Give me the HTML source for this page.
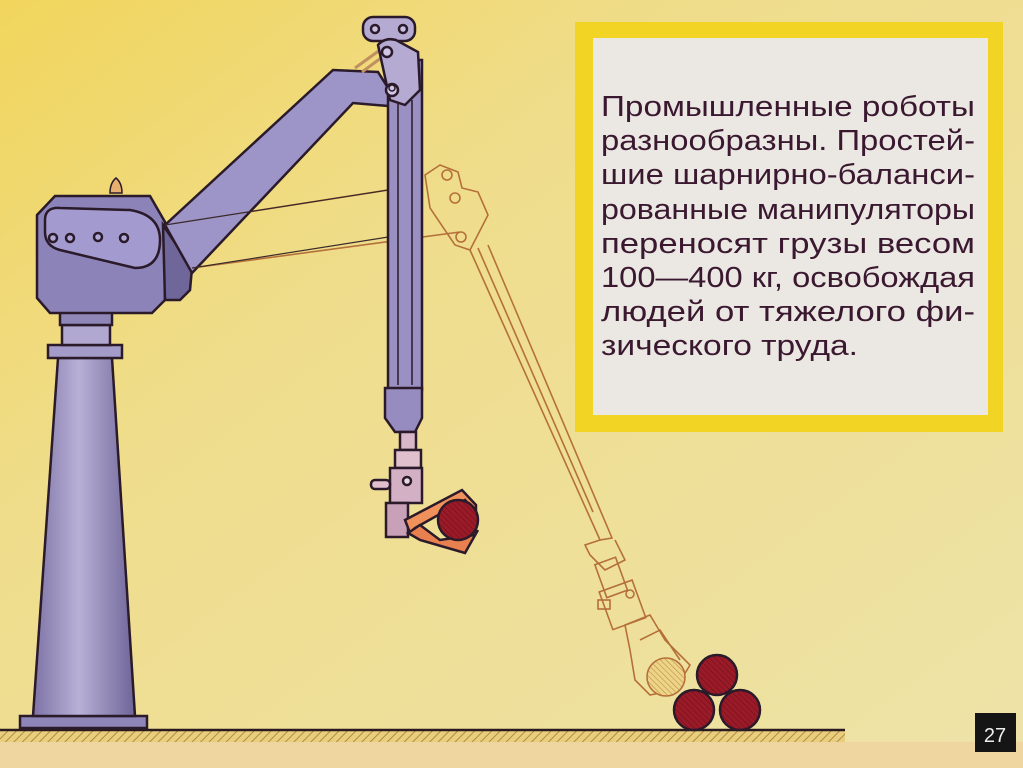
<!DOCTYPE html>
<html><head><meta charset="utf-8"><style>
html,body{margin:0;padding:0;}
body{width:1023px;height:768px;overflow:hidden;}
</style></head><body>
<svg width="1023" height="768" viewBox="0 0 1023 768" xmlns="http://www.w3.org/2000/svg">
<defs>
<linearGradient id="bg" x1="0" y1="0" x2="1" y2="1">
<stop offset="0" stop-color="#f1d55c"/><stop offset="0.35" stop-color="#efdd8c"/><stop offset="1" stop-color="#eee3a8"/>
</linearGradient>
<linearGradient id="col" x1="0" x2="1">
<stop offset="0" stop-color="#7d73a6"/><stop offset="0.45" stop-color="#b8b0d6"/><stop offset="1" stop-color="#6e6598"/>
</linearGradient>
<pattern id="hatch" width="6" height="6" patternUnits="userSpaceOnUse" patternTransform="rotate(45)">
<rect width="6" height="6" fill="#e8cf80"/><line x1="0" y1="0" x2="0" y2="6" stroke="#b78a3a" stroke-width="2"/>
</pattern>
<pattern id="bh" width="4" height="4" patternUnits="userSpaceOnUse" patternTransform="rotate(-45)">
<rect width="4" height="4" fill="#9a1a28"/><line x1="0" y1="0" x2="0" y2="4" stroke="#6a0f1a" stroke-width="1"/>
</pattern>
<pattern id="gh" width="4" height="4" patternUnits="userSpaceOnUse" patternTransform="rotate(-45)">
<rect width="4" height="4" fill="#ecd48a"/><line x1="0" y1="0" x2="0" y2="4" stroke="#c0903a" stroke-width="1.2"/>
</pattern>
</defs>
<rect width="1023" height="768" fill="url(#bg)"/>
<rect x="0" y="742" width="1023" height="26" fill="#efd6a0"/>

<rect x="0" y="730" width="845" height="12" fill="url(#hatch)"/>
<line x1="0" y1="730" x2="845" y2="730" stroke="#2a1a20" stroke-width="2.5"/>

<rect x="575" y="22" width="428" height="410" fill="#f2d424"/>
<rect x="593" y="38" width="395" height="377" fill="#ebe7e2"/>
<g font-family="'Liberation Sans',sans-serif" font-size="29" fill="#3a1830">
<text x="601" y="116" textLength="374" lengthAdjust="spacingAndGlyphs">Промышленные роботы</text>
<text x="601" y="150" textLength="374" lengthAdjust="spacingAndGlyphs">разнообразны. Простей-</text>
<text x="601" y="184" textLength="374" lengthAdjust="spacingAndGlyphs">шие шарнирно-баланси-</text>
<text x="601" y="219" textLength="374" lengthAdjust="spacingAndGlyphs">рованные манипуляторы</text>
<text x="601" y="253" textLength="374" lengthAdjust="spacingAndGlyphs">переносят грузы весом</text>
<text x="601" y="287" textLength="374" lengthAdjust="spacingAndGlyphs">100—400 кг, освобождая</text>
<text x="601" y="321" textLength="374" lengthAdjust="spacingAndGlyphs">людей от тяжелого фи-</text>
<text x="601" y="355" textLength="257" lengthAdjust="spacingAndGlyphs">зического труда.</text>
</g>

<rect x="975" y="713" width="41" height="39" fill="#151515"/>
<text x="995" y="742" font-family="'Liberation Sans',sans-serif" font-size="20" fill="#eee" text-anchor="middle">27</text>

<g stroke="#2a1a2a" stroke-width="2.5">
<rect x="20" y="716" width="127" height="12" fill="#8e86b8"/>
<polygon points="58,358 112,358 135,716 33,716" fill="url(#col)"/>
<rect x="48" y="345" width="74" height="13" fill="#a49cc8"/>
<rect x="62" y="325" width="48" height="20" fill="#b0a8d0"/>
<rect x="60" y="312" width="52" height="13" fill="#8f87b8"/>
</g>

<g fill="none" stroke="#b5703a" stroke-width="1.6">
<line x1="165" y1="225" x2="420" y2="185"/>
<line x1="192" y1="268" x2="460" y2="232"/>
<path d="M425,175 L440,165 L458,172 L462,188 L478,192 L488,215 L470,250 L455,245 L430,208 Z"/>
<circle cx="447" cy="175" r="5"/><circle cx="455" cy="198" r="5"/><circle cx="461" cy="237" r="5"/>
<path d="M470,250 L600,540 L612,538 L488,245"/>
<path d="M478,248 L593,512"/>
<path d="M600,540 L585,545 L590,555 L605,570 L625,560 L615,540"/>
<rect x="600" y="560" width="22" height="35" transform="rotate(-20 611 577)"/>
<rect x="605" y="585" width="35" height="40" transform="rotate(-20 622 605)"/>
<rect x="598" y="600" width="12" height="9" />
<circle cx="630" cy="594" r="4"/>
<path d="M625,625 L650,615 L665,640 L690,665 L675,690 L650,695 L635,680 L630,650 Z"/>
<path d="M640,640 L660,630 L680,660"/>
</g>
<circle cx="666" cy="677" r="19" fill="url(#gh)" stroke="#b5703a" stroke-width="1.6"/>

<g stroke="#2a1a2a" stroke-width="2.5">
<path d="M110,193 q0,-10 6,-15 q6,5 6,15 z" fill="#e8b070" stroke-width="1.5"/>
<polygon points="55,196 150,196 165,222 165,300 152,313 50,313 37,298 37,215" fill="#8c83b8"/>
<polygon points="163,225 192,268 190,290 180,300 165,300" fill="#6f6699"/>
<path d="M45,220 Q45,207 60,208 L130,210 Q160,215 160,240 Q160,268 135,268 Q110,262 60,250 Q45,246 45,232 Z" fill="#a39bcf"/>
<g fill="#b0a8d6"><circle cx="53" cy="238" r="4"/><circle cx="70" cy="238" r="4"/><circle cx="98" cy="237" r="4"/><circle cx="124" cy="238" r="4"/></g>
<polygon points="165,225 333,70 378,72 400,107 353,103 192,273" fill="#9d95c8"/>
</g>
<g fill="none" stroke="#3a2a2a" stroke-width="1.2">
<line x1="165" y1="225" x2="420" y2="185"/>
<line x1="192" y1="268" x2="420" y2="232"/>
</g>

<g stroke="#2a1a2a" stroke-width="2.5">
<line x1="355" y1="68" x2="380" y2="50" stroke="#c09060" stroke-width="3"/>
<line x1="362" y1="72" x2="385" y2="55" stroke="#c09060" stroke-width="3"/>
<rect x="388" y="60" width="34" height="330" fill="#9a90c2"/>
<line x1="398" y1="100" x2="398" y2="385" stroke-width="1.5"/>
<line x1="412" y1="100" x2="412" y2="385" stroke-width="1.5"/>
<polygon points="385,388 422,388 422,418 415,432 395,432 385,418" fill="#968cbf"/>
<rect x="363" y="17" width="52" height="24" rx="10" fill="#b4aad2"/>
<circle cx="375" cy="29" r="4" fill="#c8c0e0"/><circle cx="403" cy="29" r="4" fill="#c8c0e0"/>
<path d="M378,45 q7,-8 18,-5 L418,52 L420,90 L405,105 L390,100 Z" fill="#b4aad2"/>
<circle cx="387" cy="52" r="5" fill="#d0c8e6"/>
<circle cx="392" cy="90" r="6" fill="#d0c8e6"/>
<circle cx="392" cy="88" r="3" fill="none" stroke-width="1.5"/>
<rect x="400" y="432" width="16" height="18" fill="#d8b8c8"/>
<rect x="395" y="450" width="26" height="18" fill="#e0c0cc"/>
<rect x="390" y="468" width="32" height="35" fill="#d4b0c4"/>
<circle cx="407" cy="481" r="4" fill="#e8d8e0"/>
<rect x="371" y="480" width="19" height="9" rx="4" fill="#e0c0cc"/>
<rect x="386" y="503" width="22" height="34" fill="#c8a0b8"/>
<polygon points="405,520 462,490 476,505 476,512 465,500 415,528 410,533" fill="#f0905a"/>
<polygon points="408,533 420,525 440,540 475,535 478,530 465,553 420,540" fill="#e88050"/>
</g>
<circle cx="458" cy="520" r="20" fill="url(#bh)" stroke="#2a1a2a" stroke-width="2.5"/>

<g stroke="#2a1a2a" stroke-width="2.5">
<circle cx="717" cy="675" r="20" fill="url(#bh)"/>
<circle cx="694" cy="710" r="20" fill="url(#bh)"/>
<circle cx="740" cy="710" r="20" fill="url(#bh)"/>
</g>
</svg>
</body></html>
